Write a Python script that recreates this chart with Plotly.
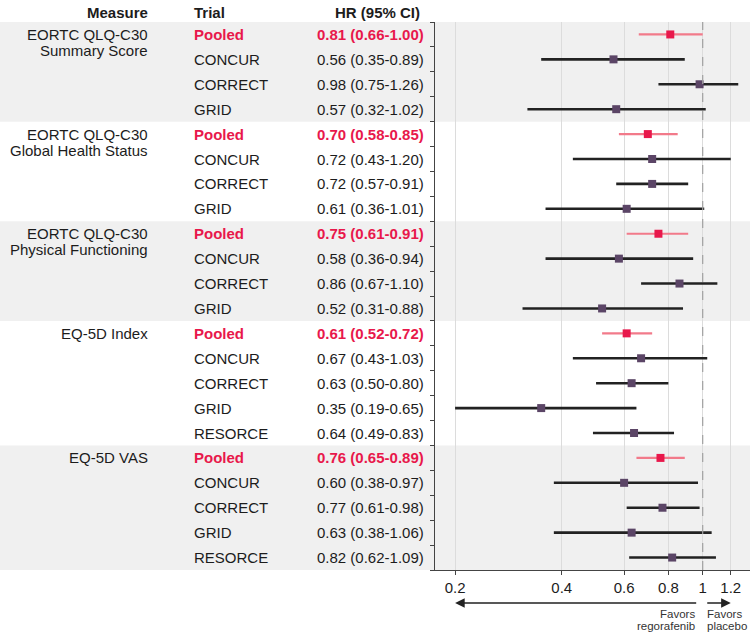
import math
import plotly.graph_objects as go

# ---------------- data ----------------
measures = [
    ["EORTC QLQ-C30", "Summary Score"],
    ["EORTC QLQ-C30", "Global Health Status"],
    ["EORTC QLQ-C30", "Physical Functioning"],
    ["EQ-5D Index"],
    ["EQ-5D VAS"],
]
trials_per_measure = [
    ["Pooled", "CONCUR", "CORRECT", "GRID"],
    ["Pooled", "CONCUR", "CORRECT", "GRID"],
    ["Pooled", "CONCUR", "CORRECT", "GRID"],
    ["Pooled", "CONCUR", "CORRECT", "GRID", "RESORCE"],
    ["Pooled", "CONCUR", "CORRECT", "GRID", "RESORCE"],
]
hr = [
    [0.81, 0.56, 0.98, 0.57],
    [0.70, 0.72, 0.72, 0.61],
    [0.75, 0.58, 0.86, 0.52],
    [0.61, 0.67, 0.63, 0.35, 0.64],
    [0.76, 0.60, 0.77, 0.63, 0.82],
]
ci_low = [
    [0.66, 0.35, 0.75, 0.32],
    [0.58, 0.43, 0.57, 0.36],
    [0.61, 0.36, 0.67, 0.31],
    [0.52, 0.43, 0.50, 0.19, 0.49],
    [0.65, 0.38, 0.61, 0.38, 0.62],
]
ci_high = [
    [1.00, 0.89, 1.26, 1.02],
    [0.85, 1.20, 0.91, 1.01],
    [0.91, 0.94, 1.10, 0.88],
    [0.72, 1.03, 0.80, 0.65, 0.83],
    [0.89, 0.97, 0.98, 1.06, 1.09],
]
x_ticks = [0.2, 0.4, 0.6, 0.8, 1, 1.2]
x_tick_labels = ["0.2", "0.4", "0.6", "0.8", "1", "1.2"]
x_limits = [0.1755, 1.36]
clip_low = 0.2  # CI lines are clipped at the lowest axis tick

# ---------------- styling ----------------
FONT = "Arial, 'Liberation Sans', Helvetica, sans-serif"
RED = "#E8184B"
PINK = "#F27A8A"
PURPLE = "#5B4566"
DARK = "#222222"
BAND = "#F0F0F0"
TXT = "#1C1C1C"
W, H = 750, 632
L_PX = 435          # left edge of the forest panel
TOP, BOT = 22, 62

fig = go.Figure()

annotations = []
shapes = []

row = 0
pool_lx, pool_ly = [], []
trial_lx, trial_ly = [], []
pool_x, pool_y, trial_x, trial_y = [], [], [], []
for g, (meas, trials) in enumerate(zip(measures, trials_per_measure)):
    start = row
    n = len(trials)
    if g % 2 == 0:
        shapes.append(dict(type="rect", xref="paper", yref="y", x0=0, x1=1,
                           y0=start - 0.5, y1=start + n - 0.5,
                           fillcolor=BAND, line_width=0, layer="below"))
    for k, line in enumerate(meas):
        annotations.append(dict(x=150 / W, y=start, xref="paper", yref="y",
                                text=line, showarrow=False, xanchor="right",
                                yanchor="middle", yshift=-16 * k,
                                font=dict(family=FONT, size=15, color=TXT)))
    for j, t in enumerate(trials):
        pooled = t == "Pooled"
        col = RED if pooled else TXT
        lab = f"<b>{t}</b>" if pooled else t
        val = f"{hr[g][j]:.2f} ({ci_low[g][j]:.2f}-{ci_high[g][j]:.2f})"
        if pooled:
            val = f"<b>{val}</b>"
        annotations.append(dict(x=192 / W, y=row, xref="paper", yref="y",
                                text=lab, showarrow=False, xanchor="left",
                                yanchor="middle",
                                font=dict(family=FONT, size=15, color=col)))
        annotations.append(dict(x=315 / W, y=row, xref="paper", yref="y",
                                text=val, showarrow=False, xanchor="left",
                                yanchor="middle",
                                font=dict(family=FONT, size=15, color=col)))
        lo = max(ci_low[g][j], clip_low)
        if pooled:
            pool_lx += [lo, ci_high[g][j], None]
            pool_ly += [row, row, None]
            pool_x.append(hr[g][j]); pool_y.append(row)
        else:
            trial_lx += [lo, ci_high[g][j], None]
            trial_ly += [row, row, None]
            trial_x.append(hr[g][j]); trial_y.append(row)
        row += 1
n_rows = row

fig.add_trace(go.Scatter(x=trial_lx, y=trial_ly, mode="lines",
                         line=dict(color=DARK, width=2.6), hoverinfo="skip"))
fig.add_trace(go.Scatter(x=pool_lx, y=pool_ly, mode="lines",
                         line=dict(color=PINK, width=2.2), hoverinfo="skip"))
fig.add_trace(go.Scatter(x=trial_x, y=trial_y, mode="markers",
                         marker=dict(symbol="square", size=8, color=PURPLE)))
fig.add_trace(go.Scatter(x=pool_x, y=pool_y, mode="markers",
                         marker=dict(symbol="square", size=8, color=RED)))

# reference line at HR = 1
shapes.append(dict(type="line", xref="x", yref="paper", x0=1, x1=1, y0=0, y1=1,
                   line=dict(color="#A0A0A0", width=1.2, dash="dash"), layer="above"))

# headers
for txt, xp, anc in [("Measure", 150, "right"), ("Trial", 192, "left"),
                     ("HR (95% CI)", 422, "right")]:
    annotations.append(dict(x=xp / W, y=1, xref="paper", yref="paper",
                            text=f"<b>{txt}</b>", showarrow=False, xanchor=anc,
                            yanchor="middle", yshift=10,
                            font=dict(family=FONT, size=15, color=TXT)))

# direction arrows
lg = math.log10
annotations.append(dict(x=lg(0.2), y=0, xref="x", yref="paper", ax=lg(0.968),
                        ay=0, axref="x", ayref="pixel", yshift=-33, text="",
                        showarrow=True, arrowhead=2, arrowsize=1.2,
                        arrowwidth=1.6, arrowcolor=DARK))
annotations.append(dict(x=lg(1.2), y=0, xref="x", yref="paper", ax=lg(1.02),
                        ay=0, axref="x", ayref="pixel", yshift=-33, text="",
                        showarrow=True, arrowhead=2, arrowsize=1.2,
                        arrowwidth=1.6, arrowcolor=DARK))
for k, (t1, t2) in enumerate([("Favors", "Favors"), ("regorafenib", "placebo")]):
    annotations.append(dict(x=697 / W, y=0, xref="paper", yref="paper", text=t1,
                            showarrow=False, xanchor="right", yanchor="middle",
                            yshift=-44 - 12 * k,
                            font=dict(family=FONT, size=11.5, color="#333333")))
    annotations.append(dict(x=705 / W, y=0, xref="paper", yref="paper", text=t2,
                            showarrow=False, xanchor="left", yanchor="middle",
                            yshift=-44 - 12 * k,
                            font=dict(family=FONT, size=11.5, color="#333333")))

fig.update_layout(
    width=W, height=H,
    margin=dict(l=0, r=0, t=TOP, b=BOT, pad=0),
    paper_bgcolor="white", plot_bgcolor="rgba(0,0,0,0)",
    showlegend=False,
    font=dict(family=FONT, size=15, color=TXT),
    shapes=shapes, annotations=annotations,
    xaxis=dict(type="log", domain=[L_PX / W, 1],
               range=[lg(x_limits[0]), lg(x_limits[1])],
               tickvals=x_ticks, ticktext=x_tick_labels,
               ticks="outside", ticklen=4, tickcolor="#444444",
               showline=True, linecolor="#444444", linewidth=1,
               showgrid=True, gridcolor="#DCDCDC", gridwidth=1,
               zeroline=False, tickfont=dict(family=FONT, size=15, color=TXT)),
    yaxis=dict(range=[n_rows - 0.5, -0.5],
               tickvals=[i - 0.5 for i in range(n_rows + 1)],
               showticklabels=False, ticks="outside", ticklen=4,
               tickcolor="#444444", showline=True, linecolor="#444444",
               linewidth=1, showgrid=False, zeroline=False),
)

fig.write_html("out.html", config={"displayModeBar": False},
               post_script="document.body.style.margin='0';document.body.style.overflow='hidden';")
